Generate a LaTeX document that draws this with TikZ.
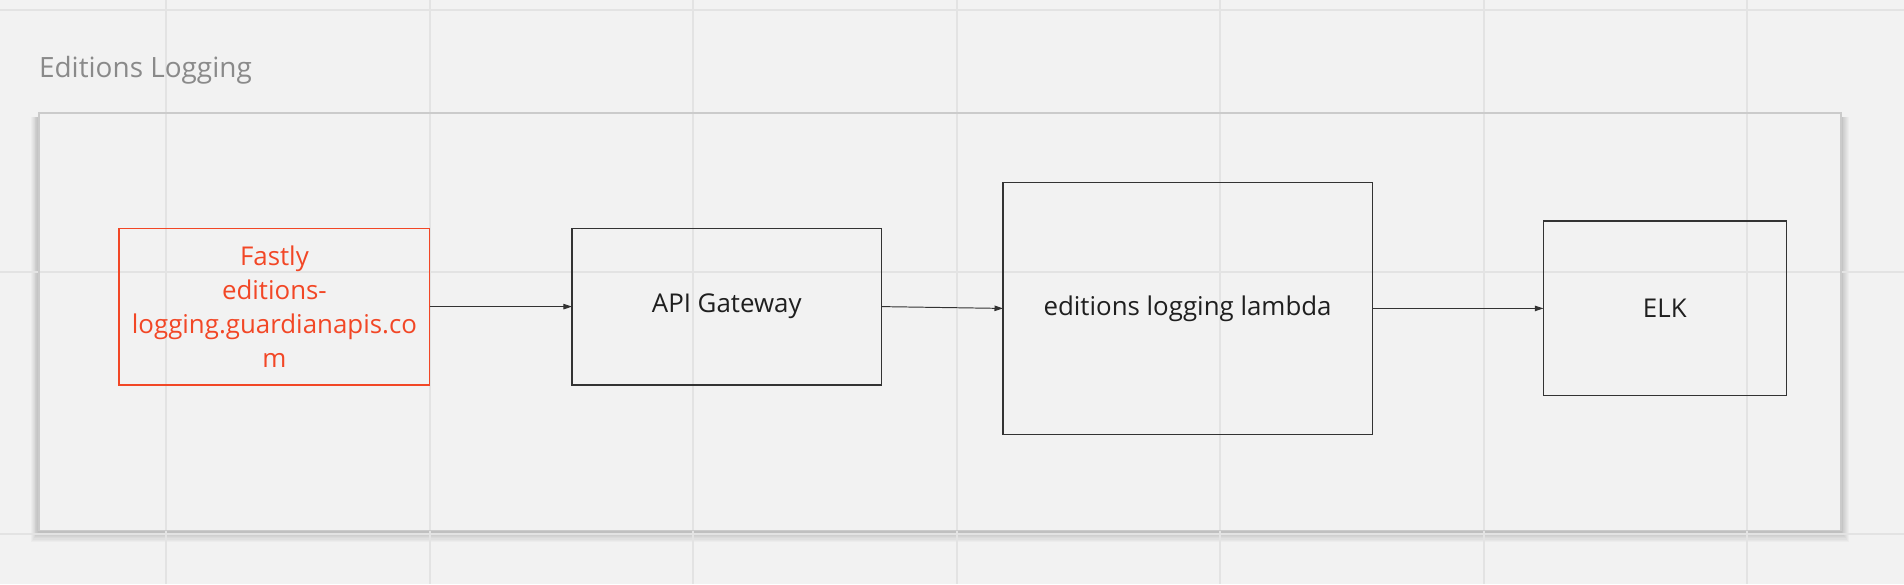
\documentclass[tikz,border=0pt]{standalone}
\usepackage{fontspec}
\setmainfont{Open Sans}
\usetikzlibrary{arrows.meta}
\definecolor{bg}{HTML}{F2F2F2}
\definecolor{gridc}{HTML}{E3E3E3}
\definecolor{framec}{HTML}{CBCBCB}
\definecolor{boxc}{HTML}{333333}
\definecolor{txtc}{HTML}{1F1F1F}
\definecolor{redc}{HTML}{F24726}
\definecolor{titlec}{HTML}{8A8A8A}
\tikzset{
  stepbox/.style={draw=boxc, line width=1pt, fill=none, inner sep=0pt, outer sep=0pt,
    font=\fontsize{21.3}{28}\selectfont, text=txtc, align=center},
  redbox/.style={stepbox, draw=redc, text=redc},
  flow/.style={draw=boxc, line width=0.8pt, -{Triangle[length=7pt,width=4.5pt]}},
  gridline/.style={draw=gridc, line width=1.5pt}
}
\begin{document}
\begin{tikzpicture}[x=1pt,y=-1pt]
\useasboundingbox (0,0) rectangle (1568,481);
\fill[bg] (0,0) rectangle (1568,481);
% soft shadow, mostly below the frame
\foreach \i in {1,...,9}{
  \fill[black, opacity=0.022] (32-0.7*\i,96) rectangle (1516+0.7*\i,438+0.9*\i);
}
\node[fill=bg, inner sep=0pt, outer sep=0pt,
      minimum width=1484pt, minimum height=344pt] (frame) at (774,265) {};
% grid
\foreach \x in {137,354,571,788,1005,1222,1439}{
  \draw[gridline] (\x,0) -- (\x,481);
}
\foreach \y in {8,224,440}{
  \draw[gridline] (0,\y) -- (1568,\y);
}
\draw[draw=framec, line width=1.3pt] (frame.south west) rectangle (frame.north east);
\node[anchor=base west, font=\fontsize{23}{28}\selectfont, text=titlec, inner sep=0pt] (title) at (32,64) {Editions Logging};

\node[redbox, minimum width=256pt, minimum height=129pt] (fastly) at (226,252.5)
  {Fastly\\editions-\\logging.guardianapis.co\\m};
\node[stepbox, minimum width=255pt, minimum height=129pt] (api) at (598.5,252.5) {API Gateway};
\node[stepbox, minimum width=304pt, minimum height=208pt] (lambda) at (978,254) {editions logging lambda};
\node[stepbox, minimum width=200pt, minimum height=144pt] (elk) at (1371,254) {ELK};

\draw[flow] (fastly.east) -- (api.west);
\draw[flow] (api.east) -- (lambda.west);
\draw[flow] (lambda.east) -- (elk.west);
\end{tikzpicture}
\end{document}
